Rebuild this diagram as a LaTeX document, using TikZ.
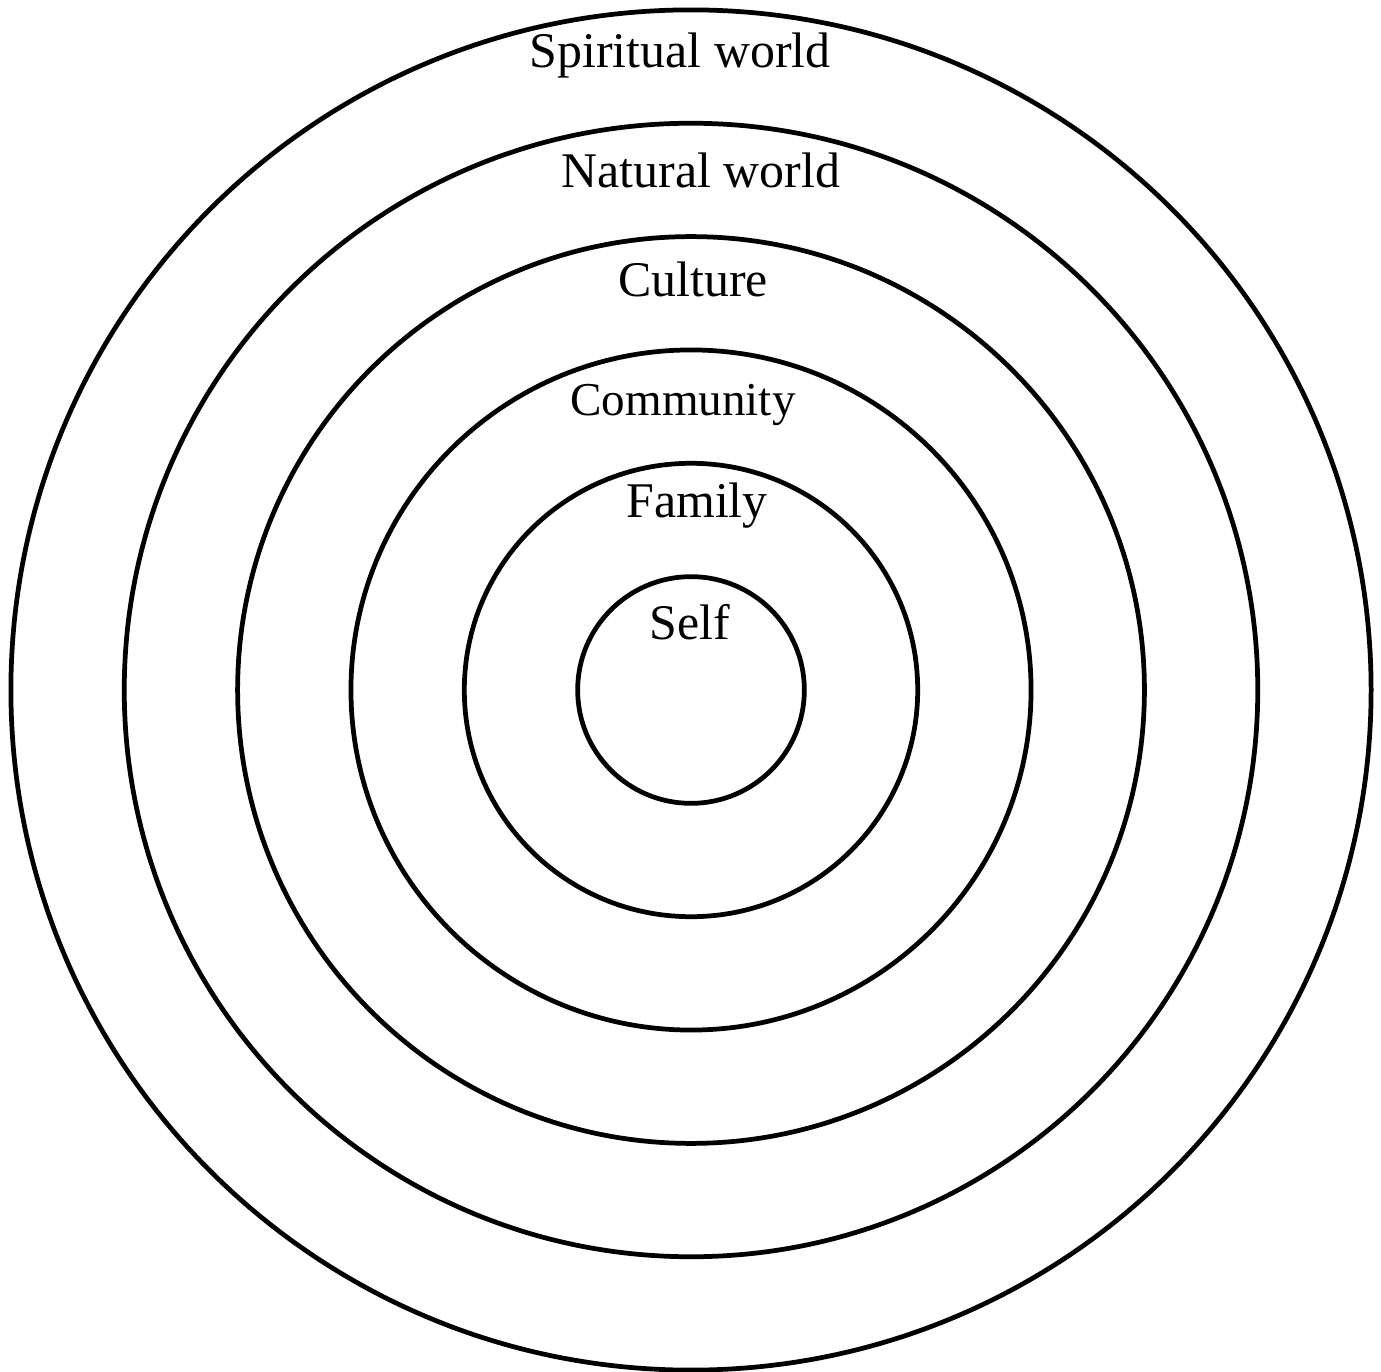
\documentclass[tikz,border=0pt]{standalone}
\usepackage{fontspec}
\setmainfont{Liberation Serif}
\usetikzlibrary{calc}
\tikzset{
  ring/.style={line width=1.35pt,color=black},
  ringlabel/.style={anchor=base,inner sep=0pt,font=\fontsize{14.2}{17}\selectfont}
}

\begin{document}
\begin{tikzpicture}
\useasboundingbox (0,0) rectangle (13.81,13.71);

\coordinate (O) at (6.91,6.81);

\foreach \k in {1,...,6}
  \draw[ring] (O) circle ({1.1335*\k});

\node[ringlabel] (spirit) at ($(O)+(-0.11,6.22)$) {Spiritual world};
\node[ringlabel] (nature) at ($(O)+(0.10,5.02)$) {Natural world};
\node[ringlabel] (culture) at ($(O)+(0.02,3.93)$) {Culture};
\node[ringlabel,font=\fontsize{13.4}{16}\selectfont] (commun) at ($(O)+(-0.08,2.74)$) {Community};
\node[ringlabel] (family) at ($(O)+(0.06,1.72)$) {Family};
\node[ringlabel] (self) at ($(O)+(-0.01,0.51)$) {Self};

\end{tikzpicture}
\end{document}
